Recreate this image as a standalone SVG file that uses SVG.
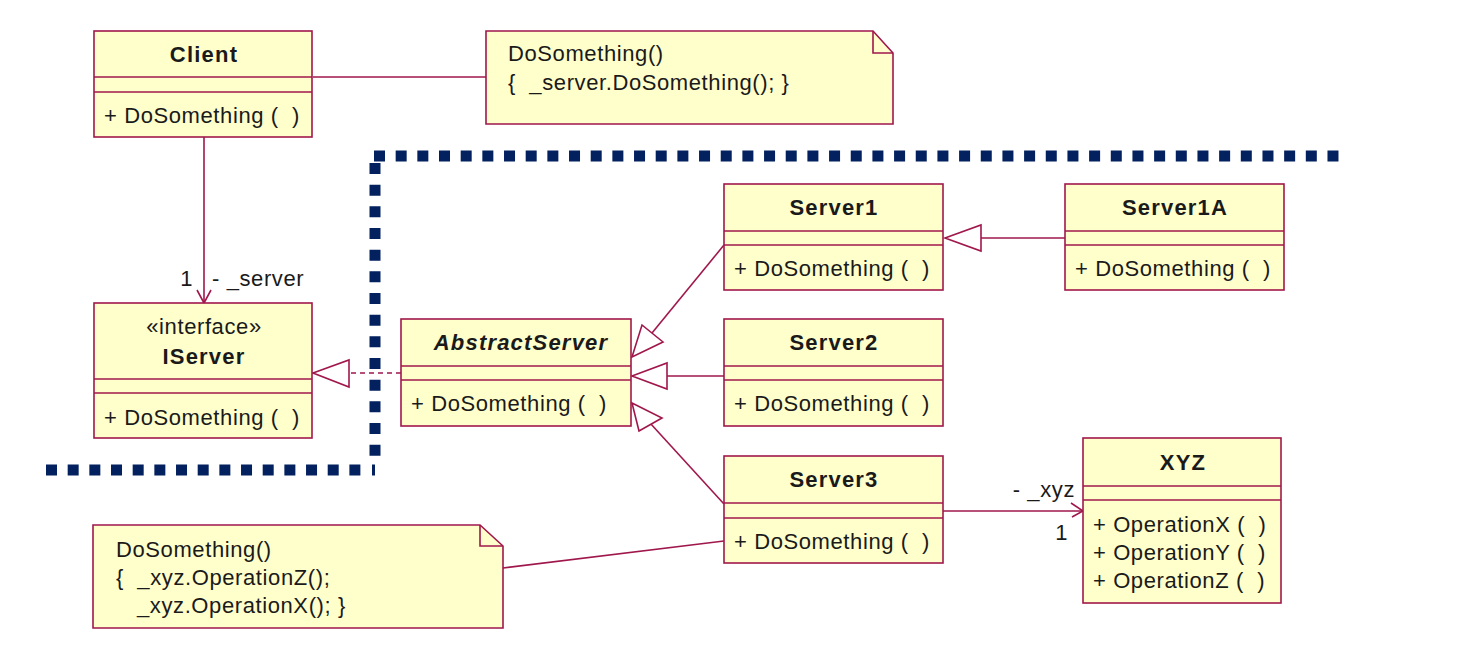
<svg xmlns="http://www.w3.org/2000/svg" width="1460" height="671" viewBox="0 0 1460 671">
<style>
text{font-family:"Liberation Sans",Arial,sans-serif;font-size:22px;fill:#1a1a1a;white-space:pre;letter-spacing:0.6px}
.t{font-weight:bold;text-anchor:middle;letter-spacing:1.2px}
.c{text-anchor:middle}
.box{fill:#ffffcc;stroke:#a0174c;stroke-width:1.6}
.ln{stroke:#a0174c;stroke-width:1.6;fill:none}
.tri{fill:#ffffff;stroke:#a0174c;stroke-width:1.6}
.dot{stroke:#03215f;stroke-width:11;fill:none;stroke-dasharray:11 10.67}
</style>
<rect width="1460" height="671" fill="#ffffff"/>
<g id="boundary">
<line class="dot" x1="374" y1="156" x2="1339" y2="156"/>
<line class="dot" x1="46" y1="470" x2="362" y2="470"/>
<line x1="372" y1="470" x2="375" y2="470" stroke="#03215f" stroke-width="11"/>
<line class="dot" x1="375" y1="163" x2="375" y2="457"/>
</g>
<g id="connectors">
<line class="ln" x1="313" y1="77" x2="486" y2="77"/>
<line class="ln" x1="204" y1="137" x2="204" y2="303"/>
<polyline class="ln" points="197,290 204,303 211,290"/>
<text x="193" y="286" text-anchor="end">1</text>
<text x="212" y="286">- _server</text>
<line class="ln" x1="401" y1="373" x2="349" y2="373" stroke-dasharray="5 4"/>
<polygon class="tri" points="313,373 349,360 349,387"/>
<line class="ln" x1="724" y1="245" x2="652" y2="333"/>
<polygon class="tri" points="632,357 642,325 663,342"/>
<line class="ln" x1="724" y1="376" x2="667" y2="376"/>
<polygon class="tri" points="632,376 667,363 667,389"/>
<line class="ln" x1="724" y1="504" x2="650" y2="423"/>
<polygon class="tri" points="632,403 662,418 639,431"/>
<line class="ln" x1="1065" y1="238" x2="981" y2="238"/>
<polygon class="tri" points="945,238 981,225 981,251"/>
<line class="ln" x1="943" y1="511" x2="1083" y2="511"/>
<polyline class="ln" points="1071,503 1083,511 1072,517"/>
<text x="1075" y="497" text-anchor="end">- _xyz</text>
<text x="1068" y="540" text-anchor="end">1</text>
<line class="ln" x1="503" y1="568" x2="724" y2="541"/>
</g>
<g id="Client">
<rect class="box" x="94" y="31" width="218" height="106"/>
<line class="ln" x1="94" y1="77" x2="312" y2="77"/>
<line class="ln" x1="94" y1="92" x2="312" y2="92"/>
<text class="t" x="204" y="62">Client</text>
<text x="104" y="123">+ DoSomething (  )</text>
</g>
<g id="Note1">
<path class="box" d="M486,31 H873 L893,53 V124 H486 Z"/>
<path class="ln" d="M873,31 V53 H893"/>
<text x="508" y="61">DoSomething()</text>
<text x="508" y="90" letter-spacing="1px">{  _server.DoSomething(); }</text>
</g>
<g id="IServer">
<rect class="box" x="94" y="303" width="218" height="135"/>
<line class="ln" x1="94" y1="379" x2="312" y2="379"/>
<line class="ln" x1="94" y1="393" x2="312" y2="393"/>
<text class="c" x="204" y="334">«interface»</text>
<text class="t" x="204" y="364">IServer</text>
<text x="104" y="425">+ DoSomething (  )</text>
</g>
<g id="AbstractServer">
<rect class="box" x="401" y="319" width="230" height="107"/>
<line class="ln" x1="401" y1="366" x2="631" y2="366"/>
<line class="ln" x1="401" y1="380" x2="631" y2="380"/>
<text class="t" x="521" y="350" font-style="italic" letter-spacing="2px">AbstractServer</text>
<text x="411" y="411">+ DoSomething (  )</text>
</g>
<g id="Server1">
<rect class="box" x="724" y="184" width="219" height="106"/>
<line class="ln" x1="724" y1="231" x2="943" y2="231"/>
<line class="ln" x1="724" y1="245" x2="943" y2="245"/>
<text class="t" x="834" y="215">Server1</text>
<text x="734" y="276">+ DoSomething (  )</text>
</g>
<g id="Server1A">
<rect class="box" x="1065" y="184" width="219" height="106"/>
<line class="ln" x1="1065" y1="231" x2="1284" y2="231"/>
<line class="ln" x1="1065" y1="245" x2="1284" y2="245"/>
<text class="t" x="1175" y="215">Server1A</text>
<text x="1075" y="276">+ DoSomething (  )</text>
</g>
<g id="Server2">
<rect class="box" x="724" y="319" width="219" height="107"/>
<line class="ln" x1="724" y1="366" x2="943" y2="366"/>
<line class="ln" x1="724" y1="380" x2="943" y2="380"/>
<text class="t" x="834" y="350">Server2</text>
<text x="734" y="411">+ DoSomething (  )</text>
</g>
<g id="Server3">
<rect class="box" x="724" y="456" width="219" height="107"/>
<line class="ln" x1="724" y1="503" x2="943" y2="503"/>
<line class="ln" x1="724" y1="518" x2="943" y2="518"/>
<text class="t" x="834" y="487">Server3</text>
<text x="734" y="549">+ DoSomething (  )</text>
</g>
<g id="XYZ">
<rect class="box" x="1083" y="438" width="198" height="165"/>
<line class="ln" x1="1083" y1="486" x2="1281" y2="486"/>
<line class="ln" x1="1083" y1="500" x2="1281" y2="500"/>
<text class="t" x="1183" y="470">XYZ</text>
<text x="1093" y="532">+ OperationX (  )</text>
<text x="1093" y="560">+ OperationY (  )</text>
<text x="1093" y="588">+ OperationZ (  )</text>
</g>
<g id="Note2">
<path class="box" d="M93,525 H480 L503,546 V628 H93 Z"/>
<path class="ln" d="M480,525 V546 H503"/>
<text x="116" y="557">DoSomething()</text>
<text x="116" y="585">{  _xyz.OperationZ();</text>
<text x="137" y="613">_xyz.OperationX(); }</text>
</g>
</svg>
